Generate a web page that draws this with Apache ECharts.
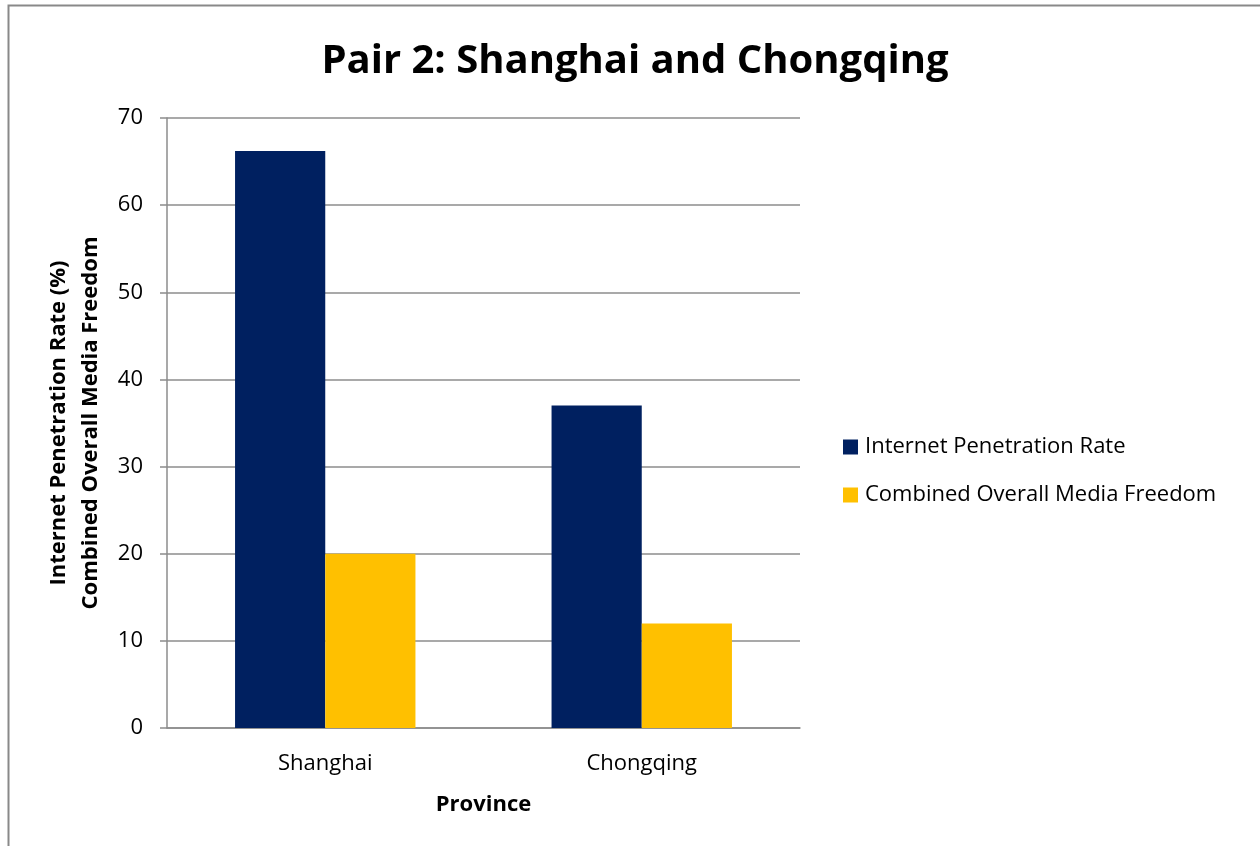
<!DOCTYPE html>
<html><head><meta charset="utf-8">
<script src="https://cdn.jsdelivr.net/npm/echarts@6/dist/echarts.min.js"></script>
<style>html,body{margin:0;padding:0;background:#fff}#c{width:1260px;height:846px}</style>
</head><body><div id="c"></div>
<script>
const categories = ['Shanghai', 'Chongqing'];
const internetRate = [66.2, 37];
const mediaFreedom = [20, 12];
const seriesNames = ['Internet Penetration Rate', 'Combined Overall Media Freedom'];
const yTicks = {min: 0, max: 70, interval: 10};

const font = 'Open Sans';
const chart = echarts.init(document.getElementById('c'));
chart.setOption({
  backgroundColor: '#fff',
  animation: false,
  textStyle: {fontFamily: font},
  graphic: [{type: 'rect', shape: {x: 8.5, y: 5.5, width: 1400, height: 1000}, style: {fill: 'none', stroke: '#898989', lineWidth: 2}, silent: true}],
  title: {text: 'Pair 2: Shanghai and Chongqing', left: 630, top: 37, textAlign: 'center',
    textStyle: {fontFamily: font, fontWeight: 'bold', fontSize: 40, color: '#000'}},
  legend: {orient: 'vertical', left: 843, top: 436, padding: 0, itemWidth: 15, itemHeight: 15, itemGap: 26,
    icon: 'rect', textStyle: {fontFamily: font, fontSize: 22, color: '#000', padding: [0,0,0,2]},
    data: seriesNames},
  grid: {left: 167, right: 460, top: 118, bottom: 118, containLabel: false},
  xAxis: {type: 'category', data: categories,
    axisLine: {lineStyle: {color: '#8c8c8c', width: 1.5}}, axisTick: {show: false},
    axisLabel: {fontFamily: font, fontSize: 22, color: '#000', margin: 25},
    name: 'Province', nameLocation: 'middle', nameGap: 66,
    nameTextStyle: {fontFamily: font, fontSize: 22, fontWeight: 'bold', color: '#000'}},
  yAxis: {type: 'value', min: yTicks.min, max: yTicks.max, interval: yTicks.interval,
    axisLine: {show: true, lineStyle: {color: '#8c8c8c', width: 1.5}},
    axisTick: {show: true, length: 7, lineStyle: {color: '#8c8c8c', width: 1.5}},
    splitLine: {lineStyle: {color: '#8c8c8c', width: 1.5}},
    axisLabel: {fontFamily: font, fontSize: 22, color: '#000', margin: 24},
    name: 'Internet Penetration Rate (%)\nCombined Overall Media Freedom', nameLocation: 'middle', nameGap: 57, nameRotate: 90,
    nameTextStyle: {fontFamily: font, fontSize: 22, fontWeight: 'bold', color: '#000', lineHeight: 32}},
  series: [
    {name: seriesNames[0], type: 'bar', data: internetRate, itemStyle: {color: '#002060'}, barGap: '0%', barCategoryGap: '43%'},
    {name: seriesNames[1], type: 'bar', data: mediaFreedom, itemStyle: {color: '#FFC000'}}
  ]
});
</script></body></html>
